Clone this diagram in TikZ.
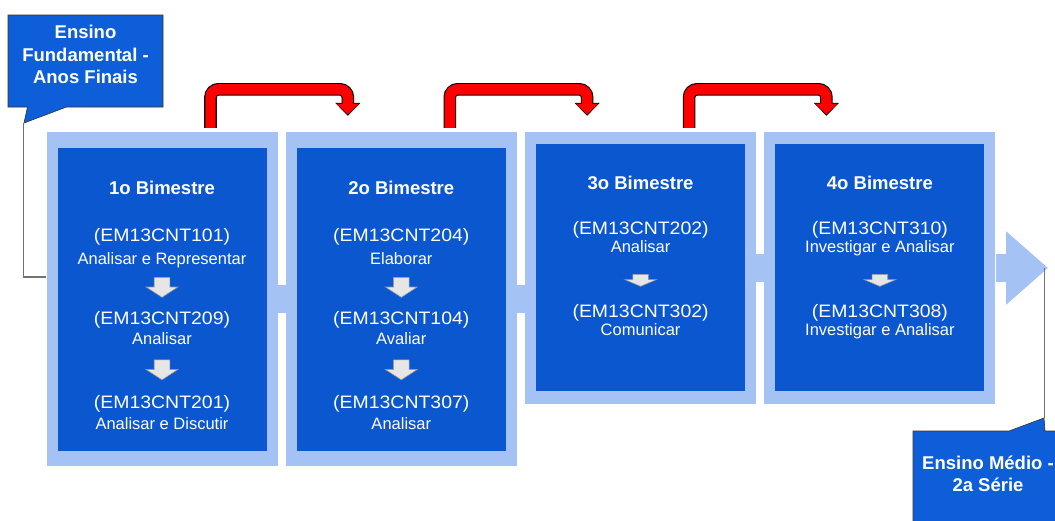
\documentclass[tikz,border=0pt]{standalone}
\usepackage{fontspec}
\setmainfont{Liberation Sans}
\newfontfamily\codefont[FakeStretch=1.08]{Liberation Sans}
\usetikzlibrary{shapes.arrows, shapes.callouts, arrows.meta, calc}

\definecolor{bimblue}{RGB}{11,87,208}
\definecolor{bimframe}{RGB}{164,194,244}
\definecolor{calloutblue}{RGB}{13,94,216}
\definecolor{stepgray}{RGB}{230,230,230}

\begin{document}
\begin{tikzpicture}[
    x=1pt, y=-1pt,
    frame/.style={rectangle, fill=bimframe, minimum width=231pt, inner sep=0pt},
    panel/.style={rectangle, fill=bimblue, minimum width=209pt, inner sep=0pt},
    title/.style={anchor=base, text=white, font=\fontsize{18.5}{22}\selectfont\bfseries},
    code/.style={anchor=base, text=white, font=\codefont\fontsize{18}{22}\selectfont},
    desc/.style={anchor=base, text=white, font=\fontsize{16.5}{20}\selectfont},
    stepdown/.style 2 args={single arrow, draw=gray!80, fill=stepgray, line width=0.6pt, inner xsep=0pt, inner ysep=7.5pt, single arrow head extend=8pt, minimum height=#1, single arrow tip angle=#2, rotate=-90, anchor=tail},
    bridge/.style={draw=bimframe, line width=28pt},
    callout/.style={rectangle callout, fill=calloutblue, draw=black!80, line width=0.6pt, inner sep=0pt},
    callouttext/.style={text=white, align=center, font=\fontsize{18.5}{22.5}\selectfont\bfseries},
    leader/.style={draw=black!55, line width=1.3pt},
    belt/.style={rounded corners=8pt}
]
\useasboundingbox (0,0) rectangle (1055,520);

% the four bimesters
\node (f1) [frame, minimum height=334pt] at (162,299) {};
\node (p1) [panel, minimum height=303pt] at (162,299.5) {};
\node (f2) [frame, minimum height=334pt] at (401.3,299) {};
\node (p2) [panel, minimum height=303pt] at (401.3,299.5) {};
\node (f3) [frame, minimum height=272pt] at (640.6,268) {};
\node (p3) [panel, minimum height=247pt] at (640.6,267.5) {};
\node (f4) [frame, minimum height=272pt] at (879.9,268) {};
\node (p4) [panel, minimum height=247pt] at (879.9,267.5) {};

\foreach \a/\b in {f1/f2, f2/f3, f3/f4}
  \draw[bridge] (\a.east) -- (\a.east -| \b.west);
\coordinate (end) at (1048,268);
\draw[bridge, -{Triangle[width=71pt,length=42pt]}] (f4.east) -- (f4.east -| end);

\foreach \n/\x/\y in {1/162/194.6, 2/401.3/194.6, 3/640.6/189.6, 4/879.9/189.6}
  \node (t\n) [title] at (\x,\y) {\n o Bimestre};

% 1o bimestre
\node (c11) [code] at (162,241.5) {(EM13CNT101)};
\node (d11) [desc] at (162,264.4) {Analisar e Representar};
\node (a11) [stepdown={20pt}{114}] at (162,277) {};
\node (c12) [code] at (162,324) {(EM13CNT209)};
\node (d12) [desc] at (162,344.9) {Analisar};
\node (a12) [stepdown={20pt}{114}] at (162,359.5) {};
\node (c13) [code] at (162,408.5) {(EM13CNT201)};
\node (d13) [desc] at (162,429.4) {Analisar e Discutir};

% 2o bimestre
\node (c21) [code] at (401.3,241.5) {(EM13CNT204)};
\node (d21) [desc] at (401.3,264.4) {Elaborar};
\node (a21) [stepdown={20pt}{114}] at (401.3,277) {};
\node (c22) [code] at (401.3,324) {(EM13CNT104)};
\node (d22) [desc] at (401.3,344.9) {Avaliar};
\node (a22) [stepdown={20pt}{114}] at (401.3,359.5) {};
\node (c23) [code] at (401.3,408.5) {(EM13CNT307)};
\node (d23) [desc] at (401.3,429.4) {Analisar};

% 3o bimestre
\node (c31) [code] at (640.6,234.5) {(EM13CNT202)};
\node (d31) [desc] at (640.6,252.9) {Analisar};
\node (a31) [stepdown={12pt}{134}] at (640.6,274) {};
\node (c32) [code] at (640.6,317) {(EM13CNT302)};
\node (d32) [desc] at (640.6,335.9) {Comunicar};

% 4o bimestre
\node (c41) [code] at (879.9,234.5) {(EM13CNT310)};
\node (d41) [desc] at (879.9,252.9) {Investigar e Analisar};
\node (a41) [stepdown={12pt}{134}] at (879.9,274) {};
\node (c42) [code] at (879.9,317) {(EM13CNT308)};
\node (d42) [desc] at (879.9,335.9) {Investigar e Analisar};

% red bent arrows over the top
\foreach \a/\b in {f1/f2, f2/f3, f3/f4} {
  \draw[belt, draw=black, line width=12.6pt, -{Triangle[width=24.5pt,length=13pt]}]
    ($(\a.north)+(48.5,-4)$) -- ($(\a.north)+(48.5,-42.5)$) -- ($(\b.north)+(-53.5,-42.5)$) -- ($(\b.north)+(-53.5,-16)$);
  \draw[belt, draw=red, line width=10.4pt, -{Triangle[width=22pt,length=11pt]}]
    ($(\a.north)+(48.5,-4)$) -- ($(\a.north)+(48.5,-42.5)$) -- ($(\b.north)+(-53.5,-42.5)$) -- ($(\b.north)+(-53.5,-17.3)$);
}

% callouts
\node (fund) [callout, minimum width=155pt, minimum height=92pt, callout absolute pointer={(24,123)}, callout pointer width=39pt] at (85.5,61) {};
\node (fund text) [callouttext] at (85.5,54.5) {Ensino\\Fundamental -\\Anos Finais};
\draw[leader] (fund.pointer) |- ($(f1.west)+(0,-22)$);

\node (medio) [callout, minimum width=150pt, minimum height=100pt, callout absolute pointer={(1044,418)}, callout pointer width=36pt] at (988,481) {};
\node (medio text) [callouttext, font=\fontsize{18.5}{22}\selectfont\bfseries] at (988,474) {Ensino Médio -\\2a Série};
\draw[leader] (medio.pointer) -- (medio.pointer |- end);
\end{tikzpicture}
\end{document}
